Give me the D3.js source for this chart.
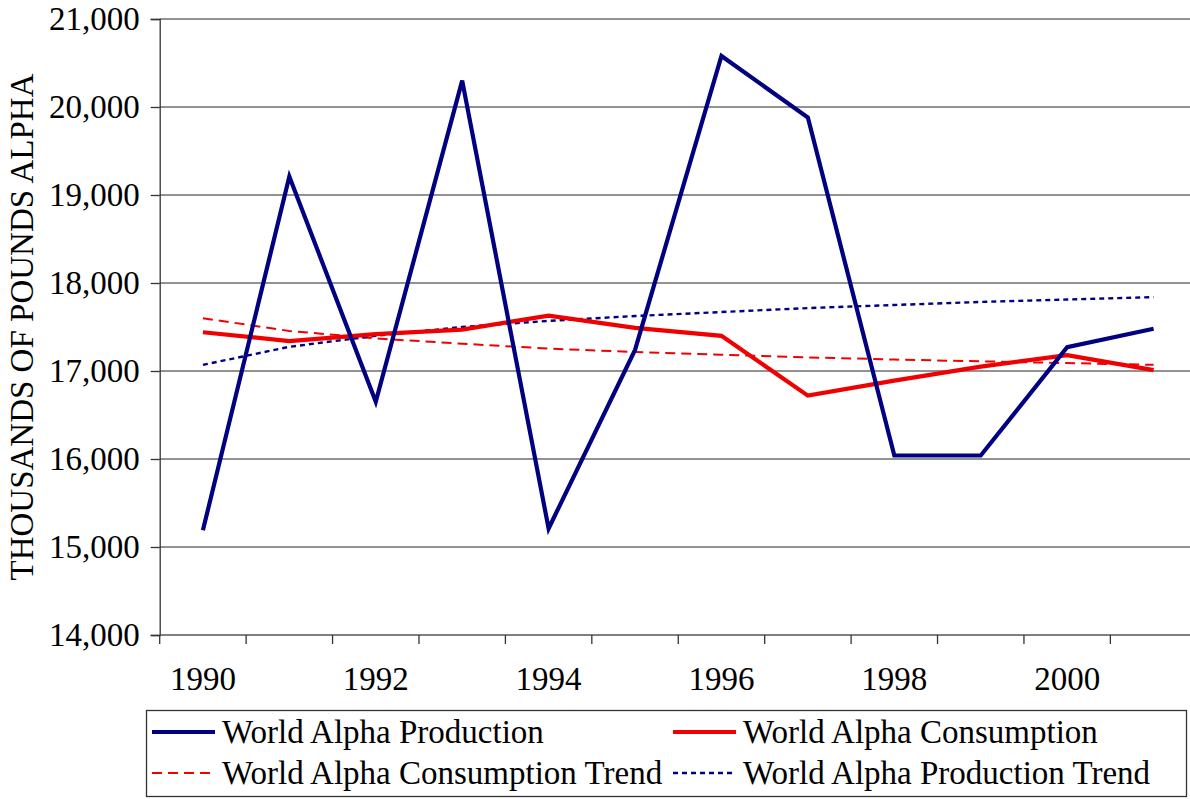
<!DOCTYPE html>
<html>
<head>
<meta charset="utf-8">
<script src="https://cdn.jsdelivr.net/npm/d3@7"></script>
<style>
  body { margin: 0; background: white; }
  text { font-family: "Times New Roman", "Liberation Serif", serif; }
</style>
</head>
<body>
<div id="chart"></div>
<script>
// Data
const years = [1990, 1991, 1992, 1993, 1994, 1995, 1996, 1997, 1998, 1999, 2000, 2001];
const production = [15190, 19210, 16650, 20300, 15210, 17240, 20580, 19880, 16040, 16040, 17270, 17480];
const consumption = [17440, 17340, 17420, 17470, 17630, 17490, 17400, 16720, 16890, 17050, 17180, 17010];
const consumptionTrend = [17600, 17455, 17370, 17310, 17255, 17215, 17185, 17155, 17130, 17110, 17090, 17070];
const productionTrend = [17070, 17275, 17400, 17500, 17570, 17625, 17670, 17715, 17750, 17785, 17812, 17840];
const yTicks = [14000, 15000, 16000, 17000, 18000, 19000, 20000, 21000];
const xLabels = [1990, 1992, 1994, 1996, 1998, 2000];

let width = 1190, height = 799;
let margin = { top: 19, bottom: 164, left: 159.7, right: -6.8 };
let fontSize = 33;

let svg = d3.select('#chart')
  .append('svg')
  .attr('width', width)
  .attr('height', height)
  .style('background', 'white');

// band scale so every year sits in the middle of its slot
let xScale = d3.scaleBand()
  .domain(years)
  .range([margin.left, width - margin.right])
  .padding(0);

let yScale = d3.scaleLinear()
  .domain([14000, 21000])
  .range([height - margin.bottom, margin.top]);

let xc = d => xScale(d) + xScale.bandwidth() / 2;

// gridlines
svg.append('g')
  .selectAll('line')
  .data(yTicks.slice(1))
  .enter()
  .append('line')
    .attr('x1', margin.left)
    .attr('x2', width - margin.right)
    .attr('y1', d => yScale(d))
    .attr('y2', d => yScale(d))
    .attr('stroke', '#6e6e6e')
    .attr('stroke-width', 1.6);

// y axis
let yAxis = svg.append('g')
  .attr('transform', `translate(${margin.left},0)`)
  .call(d3.axisLeft(yScale).tickValues(yTicks).tickSize(9).tickPadding(11)
    .tickFormat(d3.format(',')));
yAxis.select('.domain').attr('stroke', '#333').attr('stroke-width', 1.3);
yAxis.selectAll('.tick line').attr('stroke', '#333').attr('stroke-width', 1.3);
yAxis.selectAll('.tick text')
  .attr('font-size', fontSize)
  .attr('font-family', '"Times New Roman", "Liberation Serif", serif')
  .attr('fill', 'black');

// x axis: ticks between categories, labels every other year
let xAxis = svg.append('g')
  .attr('transform', `translate(0,${yScale(14000)})`);
xAxis.append('line')
  .attr('x1', margin.left)
  .attr('x2', width - margin.right)
  .attr('stroke', '#555')
  .attr('stroke-width', 1.6);
xAxis.selectAll('.xtick')
  .data(years)
  .enter()
  .append('line')
    .attr('x1', d => xScale(d))
    .attr('x2', d => xScale(d))
    .attr('y1', 0)
    .attr('y2', 9)
    .attr('stroke', '#333')
    .attr('stroke-width', 1.3);
xAxis.selectAll('.xlabel')
  .data(xLabels)
  .enter()
  .append('text')
    .attr('x', d => xc(d))
    .attr('y', 55)
    .attr('text-anchor', 'middle')
    .attr('font-size', fontSize)
    .text(d => d);

// y axis title
svg.append('text')
  .attr('transform', `translate(33,${(yScale(21000) + yScale(14000)) / 2}) rotate(-90)`)
  .attr('text-anchor', 'middle')
  .attr('font-size', fontSize)
  .text('THOUSANDS OF POUNDS ALPHA');

// series
const series = [
  { name: 'World Alpha Consumption Trend', values: consumptionTrend, color: '#f00000', w: 2, dash: '10,6' },
  { name: 'World Alpha Production Trend', values: productionTrend, color: '#000080', w: 2.4, dash: '5,4' },
  { name: 'World Alpha Consumption', values: consumption, color: '#f00000', w: 4.2, dash: null },
  { name: 'World Alpha Production', values: production, color: '#000080', w: 4.2, dash: null }
];

let line = d3.line()
  .x((d, i) => xc(years[i]))
  .y(d => yScale(d));

series.forEach(s => {
  svg.append('path')
    .datum(s.values)
    .attr('d', line)
    .attr('fill', 'none')
    .attr('stroke', s.color)
    .attr('stroke-width', s.w)
    .attr('stroke-dasharray', s.dash)
    .attr('stroke-linejoin', 'miter');
});

// legend
const legendItems = [
  { s: series[3], x: 152, y: 732 },
  { s: series[2], x: 673, y: 732 },
  { s: series[0], x: 152, y: 773 },
  { s: series[1], x: 673, y: 773 }
];

const legend = svg.append('g');
legend.append('rect')
  .attr('x', 146.5)
  .attr('y', 710.5)
  .attr('width', 1040)
  .attr('height', 86)
  .attr('fill', 'white')
  .attr('stroke', '#333')
  .attr('stroke-width', 1.3);

legendItems.forEach(item => {
  legend.append('line')
    .attr('x1', item.x)
    .attr('x2', item.x + 63)
    .attr('y1', item.y)
    .attr('y2', item.y)
    .attr('stroke', item.s.color)
    .attr('stroke-width', item.s.w)
    .attr('stroke-dasharray', item.s.dash);
  legend.append('text')
    .attr('x', item.x + 70)
    .attr('y', item.y + 11)
    .attr('font-size', fontSize)
    .text(item.s.name);
});
</script>
</body>
</html>
